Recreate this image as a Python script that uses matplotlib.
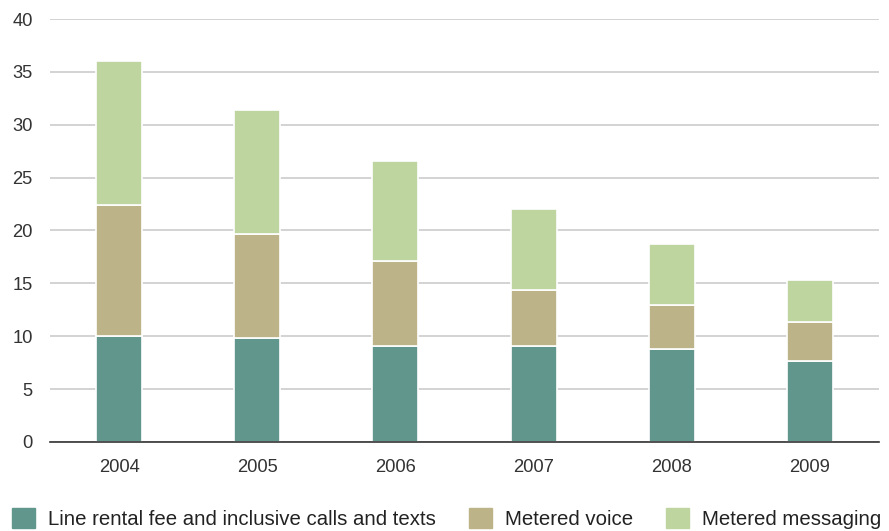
import numpy as np
import matplotlib.pyplot as plt
from matplotlib.patches import Patch

plt.rcParams['font.family'] = ['Liberation Sans', 'DejaVu Sans']

years = ['2004', '2005', '2006', '2007', '2008', '2009']
line_rental = [10.0, 9.8, 9.05, 9.05, 8.75, 7.65]
metered_voice = [12.45, 9.9, 8.05, 5.35, 4.2, 3.7]
metered_messaging = [13.6, 11.7, 9.5, 7.6, 5.75, 3.95]

series = [
    ('Line rental fee and inclusive calls and texts', line_rental, '#60968b'),
    ('Metered voice', metered_voice, '#bcb488'),
    ('Metered messaging', metered_messaging, '#bed5a0'),
]

fig = plt.figure(figsize=(8.89, 5.31), dpi=100)
ax = fig.add_axes([50 / 889, 1 - 442 / 531, 829 / 889, 423 / 531])

x = np.arange(len(years))
bottom = np.zeros(len(years))
for label, vals, color in series:
    ax.bar(x, vals, width=0.333, bottom=bottom, color=color,
           edgecolor='white', linewidth=1.2, label=label, zorder=3)
    bottom += np.array(vals)

ax.set_ylim(0, 40)
ax.set_xlim(-0.5, len(years) - 0.5)
ax.set_yticks(range(0, 41, 5))
ax.set_xticks(x)
ax.set_xticklabels(years)
ax.yaxis.grid(True, color='#cccccc', linewidth=1.2, zorder=0)
ax.tick_params(axis='both', length=0, labelsize=13.2, colors='#333333')
ax.tick_params(axis='x', pad=12)
ax.tick_params(axis='y', pad=12.5)
for s in ['top', 'right', 'left']:
    ax.spines[s].set_visible(False)
ax.spines['bottom'].set_color('#333333')
ax.spines['bottom'].set_linewidth(1.2)
ax.spines['bottom'].set_zorder(4)

handles = [Patch(color=c, label=l) for l, _, c in series]
fig.legend(handles=handles, loc='center left',
           bbox_to_anchor=(12 / 889, 1 - 518.5 / 531),
           ncol=3, frameon=False, fontsize=14.7, borderpad=0,
           borderaxespad=0, handlelength=1.13, handleheight=1.13,
           handletextpad=0.64, columnspacing=1.6, labelcolor='#222222')

fig.savefig('out.png', dpi=100)
